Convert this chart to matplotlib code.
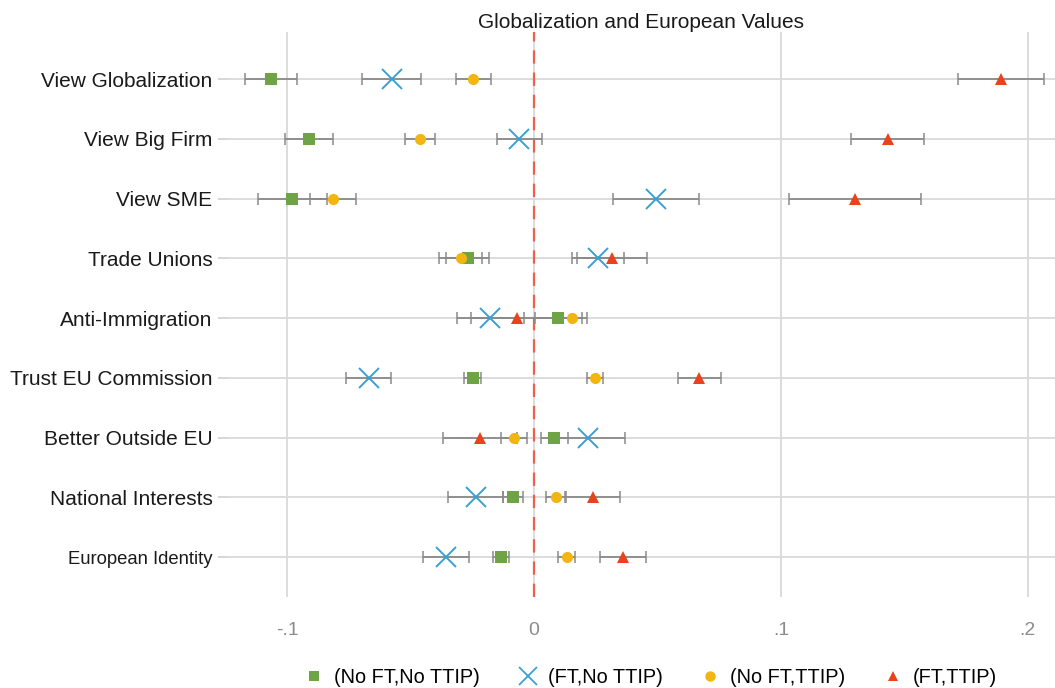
import numpy as np
import matplotlib.pyplot as plt
from matplotlib.lines import Line2D

plt.rcParams['font.family'] = ['Liberation Sans', 'DejaVu Sans']

labels = ['View Globalization', 'View Big Firm', 'View SME', 'Trade Unions',
          'Anti-Immigration', 'Trust EU Commission', 'Better Outside EU',
          'National Interests', 'European Identity']

# point estimates, top row first
nofit_nottip = [-0.1066, -0.0912, -0.0980, -0.0269, 0.0099, -0.0248, 0.0082, -0.0086, -0.0134]
ft_nottip = [-0.0577, -0.0060, 0.0495, 0.0258, -0.0178, -0.0669, 0.0220, -0.0236, -0.0357]
noft_ttip = [-0.0246, -0.0462, -0.0814, -0.0296, 0.0155, 0.0247, -0.0081, 0.0088, 0.0133]
ft_ttip = [0.1892, 0.1432, 0.1300, 0.0315, -0.0070, 0.0670, -0.0219, 0.0238, 0.0360]

# half-width of the confidence intervals
err_nofit_nottip = [0.0106, 0.0098, 0.0140, 0.0088, 0.0095, 0.0034, 0.0055, 0.0040, 0.0034]
err_ft_nottip = [0.0118, 0.0092, 0.0174, 0.0105, 0.0136, 0.0091, 0.0149, 0.0111, 0.0094]
err_noft_ttip = [0.0071, 0.0062, 0.0094, 0.0087, 0.0058, 0.0032, 0.0054, 0.0040, 0.0034]
err_ft_ttip = [0.0174, 0.0149, 0.0266, 0.0142, 0.0186, 0.0088, 0.0149, 0.0111, 0.0094]

legend_names = ['(No FT,No TTIP)', '(FT,No TTIP)', '(No FT,TTIP)', '(FT,TTIP)']

green = '#6FA446'
blue = '#3A9FD3'
yellow = '#F3B512'
red = '#E8431C'

fig = plt.figure(figsize=(10.55, 6.88), dpi=100)
ax = fig.add_axes([0.216, 0.132, 0.784, 0.8215])

y = np.arange(1, len(labels) + 1)

series = [
    (nofit_nottip, err_nofit_nottip, green, 's', 9, 0),
    (ft_nottip, err_ft_nottip, blue, 'x', 14, 1.4),
    (noft_ttip, err_noft_ttip, yellow, 'o', 8, 0),
    (ft_ttip, err_ft_ttip, red, '^', 9, 0),
]

for vals, errs, col, mk, ms, mew in series:
    ax.errorbar(vals, y, xerr=errs, fmt='none', ecolor='#8a8a8a',
                elinewidth=1.3, capsize=4.5, capthick=1.1, zorder=3)
for vals, errs, col, mk, ms, mew in series:
    ax.plot(vals, y, linestyle='none', marker=mk, markersize=ms,
            color=col, markeredgewidth=mew, zorder=4)

ax.axvline(0, color='#F06048', linestyle=(0, (6, 4)), linewidth=1.6, zorder=2)

ax.set_xlim(-0.124, 0.211)
ax.set_ylim(9.67, 0.21)
ax.set_xticks([-0.1, 0, 0.1, 0.2])
ax.set_xticklabels(['-.1', '0', '.1', '.2'], fontsize=14, color='#8c8c8c')
ax.set_yticks(y)
ax.set_yticklabels(labels, fontsize=15, color='#1a1a1a')
ax.get_yticklabels()[-1].set_fontsize(13.3)

ax.grid(True, color='#d9d9d9', linewidth=1.3, zorder=0)
ax.set_axisbelow(True)
for s in ax.spines.values():
    s.set_visible(False)
ax.tick_params(axis='x', length=0, pad=18)
ax.tick_params(axis='y', length=7, color='#cfcfcf', width=1.2, pad=4)

ax.set_title('Globalization and European Values', fontsize=15, color='#1a1a1a', pad=2)

handles = []
for vals, errs, col, mk, ms, mew in series:
    if mk == 'x':
        h = Line2D([], [], linestyle='none', marker=mk, markersize=13, color=col,
                   markeredgewidth=1.3)
    else:
        h = Line2D([], [], linestyle='none', marker=mk, markersize=7.5, color=col,
                   markeredgewidth=0)
    handles.append(h)
fig.legend(handles, legend_names, loc='lower center', bbox_to_anchor=(0.616, -0.024),
           ncol=4, frameon=False, fontsize=14.3, handletextpad=0.4, columnspacing=1.8,
           handlelength=1.2)

plt.savefig('out.png', dpi=100)
